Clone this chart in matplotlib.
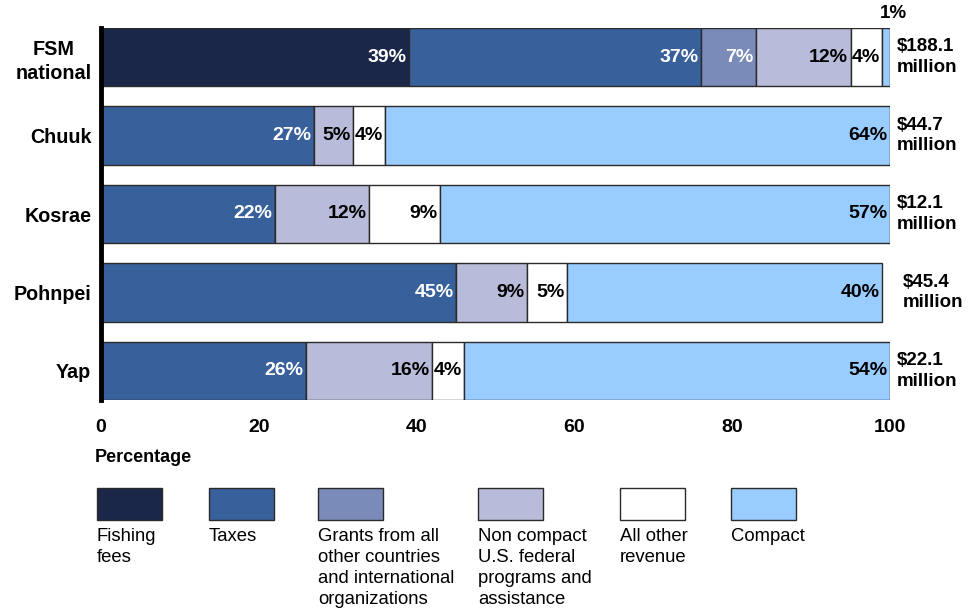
import matplotlib
matplotlib.use("Agg")
import matplotlib.pyplot as plt
from matplotlib.patches import Rectangle
import numpy as np

plt.rcParams['font.family'] = ['Liberation Sans', 'DejaVu Sans']

# Revenue sources (stack order, left to right)
sources = ["Fishing\nfees", "Taxes",
           "Grants from all\nother countries\nand international\norganizations",
           "Non compact\nU.S. federal\nprograms and\nassistance",
           "All other\nrevenue", "Compact"]
colors = ["#1b2749", "#38609b", "#7a8bb9", "#b8bbd9", "#ffffff", "#99ccff"]
text_colors = ["white", "white", "white", "black", "black", "black"]

governments = ["FSM\nnational", "Chuuk", "Kosrae", "Pohnpei", "Yap"]
totals = ["$188.1\nmillion", "$44.7\nmillion", "$12.1\nmillion",
          "$45.4\nmillion", "$22.1\nmillion"]

# Share of revenue (%) by source for each government
fishing_fees = [39, 0, 0, 0, 0]
taxes = [37, 27, 22, 45, 26]
grants = [7, 0, 0, 0, 0]
non_compact = [12, 5, 12, 9, 16]
all_other = [4, 4, 9, 5, 4]
compact = [1, 64, 57, 40, 54]
series = [fishing_fees, taxes, grants, non_compact, all_other, compact]

W, H = 980, 616
fig = plt.figure(figsize=(W / 100, H / 100), dpi=100)
ax = fig.add_axes([101 / W, 1 - 400 / H, 789 / W, 372 / H])

y = np.arange(len(governments))
bar_h = 0.74
left = np.zeros(len(governments))
for vals, col, tcol in zip(series, colors, text_colors):
    vals = np.array(vals, dtype=float)
    ax.barh(y, vals, left=left, height=bar_h, color=col,
            edgecolor="#2a2a2a", linewidth=1.0, zorder=2)
    for i, v in enumerate(vals):
        if v <= 0:
            continue
        if v < 2:
            # too thin to hold its label: put it above the bar
            ax.text(left[i] + v / 2 + 0.9, y[i] - bar_h / 2 - 0.18, f"{v:.0f}%",
                    ha="center", va="center", fontsize=13.5, fontweight="bold",
                    color="black", clip_on=False)
        else:
            ax.text(left[i] + v - 0.3, y[i], f"{v:.0f}%", ha="right",
                    va="center", fontsize=14, fontweight="bold", color=tcol,
                    zorder=3)
    left += vals

# Total revenue to the right of each bar
for i, t in enumerate(totals):
    xoff = 101.6 if governments[i] == "Pohnpei" else 100.9
    ax.text(xoff, y[i], t, ha="left", va="center", fontsize=13.5,
            fontweight="bold", linespacing=1.25, clip_on=False)

ax.set_xlim(0, 100)
ax.set_ylim(len(governments) - 1 + 0.37, -0.37)
ax.set_yticks(y)
ax.set_yticklabels(governments, fontsize=14.2, fontweight="bold",
                   linespacing=1.3)
for lab in ax.get_yticklabels():
    lab.set_multialignment("center")
ax.set_xticks([0, 20, 40, 60, 80, 100])
ax.set_xticklabels(["0", "20", "40", "60", "80", "100"], fontsize=14,
                   fontweight="bold")
ax.tick_params(axis="both", length=0)
ax.tick_params(axis="x", pad=14)
ax.tick_params(axis="y", pad=7)
for s in ["top", "right", "bottom"]:
    ax.spines[s].set_visible(False)
ax.spines["left"].set_linewidth(3.5)
ax.spines["left"].set_color("black")
ax.spines["left"].set_zorder(4)

fig.text(95 / W, 1 - 457 / H, "Percentage", ha="left", va="center",
         fontsize=13, fontweight="bold")

# Legend: swatches with captions underneath
leg_x = [97, 209, 318, 478, 620, 731]
for xp, lab, col in zip(leg_x, sources, colors):
    fig.patches.append(Rectangle((xp / W, 1 - 520 / H), 65 / W, 32 / H,
                                 transform=fig.transFigure, facecolor=col,
                                 edgecolor="#2a2a2a", linewidth=1.0))
    fig.text(xp / W, 1 - 528 / H, lab, ha="left", va="top", fontsize=13.3,
             linespacing=1.3)

fig.savefig("out.png", dpi=100)
